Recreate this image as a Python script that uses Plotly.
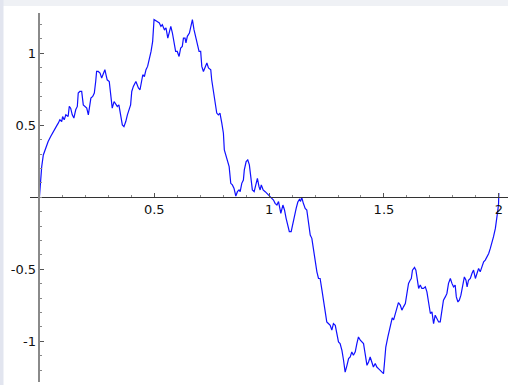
import plotly.graph_objects as go

# Sampled curve: x in [0, 2]
x_vals = [
    0.000, 0.005, 0.010, 0.017, 0.028, 0.038, 0.049, 0.060, 0.068, 0.075,
    0.082, 0.089, 0.097, 0.101, 0.108, 0.115, 0.125, 0.130, 0.136, 0.143,
    0.150, 0.158, 0.165, 0.169, 0.176, 0.184, 0.191, 0.198, 0.206, 0.213,
    0.220, 0.224, 0.232, 0.239, 0.245, 0.249, 0.256, 0.264, 0.271, 0.278,
    0.285, 0.290, 0.295, 0.304, 0.310, 0.317, 0.325, 0.332, 0.339, 0.346,
    0.354, 0.361, 0.368, 0.376, 0.383, 0.390, 0.397, 0.402, 0.409, 0.420,
    0.431, 0.438, 0.442, 0.450, 0.457, 0.464, 0.471, 0.478, 0.486, 0.493,
    0.499, 0.511, 0.522, 0.529, 0.535, 0.544, 0.551, 0.559, 0.566, 0.572,
    0.579, 0.586, 0.593, 0.600, 0.608, 0.615, 0.622, 0.627, 0.634, 0.638,
    0.644, 0.653, 0.660, 0.666, 0.673, 0.681, 0.689, 0.695, 0.702, 0.707,
    0.714, 0.721, 0.729, 0.736, 0.746, 0.750, 0.757, 0.765, 0.772, 0.779,
    0.786, 0.794, 0.801, 0.805, 0.813, 0.818, 0.826, 0.833, 0.840, 0.847,
    0.855, 0.862, 0.869, 0.874, 0.881, 0.888, 0.892, 0.900, 0.907, 0.914,
    0.920, 0.927, 0.935, 0.942, 0.949, 0.956, 0.961, 0.966, 0.974, 0.983,
    0.990, 0.997, 1.004, 1.012, 1.019, 1.026, 1.034, 1.041, 1.045, 1.051,
    1.060, 1.067, 1.074, 1.081, 1.088, 1.096, 1.103, 1.110, 1.118, 1.125,
    1.132, 1.137, 1.142, 1.149, 1.157, 1.164, 1.171, 1.179, 1.186, 1.193,
    1.200, 1.208, 1.215, 1.222, 1.230, 1.237, 1.244, 1.251, 1.258, 1.266,
    1.273, 1.280, 1.288, 1.295, 1.302, 1.309, 1.317, 1.324, 1.331, 1.339,
    1.346, 1.353, 1.360, 1.367, 1.375, 1.382, 1.389, 1.397, 1.404, 1.411,
    1.418, 1.426, 1.433, 1.440, 1.447, 1.454, 1.462, 1.469, 1.476, 1.484,
    1.491, 1.498, 1.502, 1.508, 1.517, 1.524, 1.530, 1.536, 1.542, 1.549,
    1.556, 1.563, 1.571, 1.578, 1.585, 1.593, 1.600, 1.607, 1.614, 1.619,
    1.624, 1.633, 1.639, 1.646, 1.651, 1.658, 1.665, 1.672, 1.680, 1.687,
    1.694, 1.702, 1.709, 1.716, 1.723, 1.731, 1.738, 1.745, 1.753, 1.759,
    1.767, 1.774, 1.781, 1.789, 1.796, 1.803, 1.810, 1.815, 1.822, 1.828,
    1.835, 1.842, 1.850, 1.857, 1.862, 1.868, 1.876, 1.883, 1.890, 1.898,
    1.905, 1.912, 1.919, 1.927, 1.934, 1.941, 1.949, 1.956, 1.963, 1.970,
    1.977, 1.985, 1.992, 1.996, 1.999, 2.000,
]
y_vals = [
    0.000, 0.120, 0.213, 0.294, 0.352, 0.387, 0.422, 0.457, 0.480, 0.496,
    0.515, 0.538, 0.526, 0.561, 0.538, 0.573, 0.561, 0.631, 0.619, 0.573,
    0.550, 0.608, 0.631, 0.724, 0.735, 0.735, 0.642, 0.631, 0.619, 0.573,
    0.631, 0.689, 0.700, 0.724, 0.804, 0.874, 0.874, 0.863, 0.828, 0.863,
    0.886, 0.851, 0.816, 0.804, 0.712, 0.619, 0.665, 0.642, 0.631, 0.642,
    0.561, 0.503, 0.491, 0.526, 0.573, 0.608, 0.642, 0.735, 0.770, 0.804,
    0.759, 0.747, 0.781, 0.851, 0.839, 0.886, 0.909, 0.955, 1.013, 1.083,
    1.234, 1.222, 1.211, 1.187, 1.199, 1.164, 1.176, 1.106, 1.164, 1.187,
    1.141, 1.083, 1.013, 1.013, 0.978, 1.037, 1.048, 1.106, 1.106, 1.072,
    1.118, 1.141, 1.187, 1.234, 1.164, 1.106, 1.048, 1.013, 1.013, 0.909,
    0.874, 0.909, 0.933, 0.898, 0.886, 0.816, 0.747, 0.677, 0.585, 0.573,
    0.585, 0.515, 0.445, 0.329, 0.283, 0.271, 0.213, 0.097, 0.086, 0.063,
    0.009, 0.039, 0.051, 0.039, 0.097, 0.120, 0.190, 0.248, 0.260, 0.225,
    0.143, 0.051, 0.039, 0.097, 0.132, 0.074, 0.051, 0.086, 0.051, 0.039,
    0.028, 0.016, 0.000, -0.007, -0.019, -0.042, -0.054, -0.030, -0.077, -0.111,
    -0.054, -0.088, -0.146, -0.193, -0.239, -0.239, -0.181, -0.123, -0.075, -0.033,
    -0.015, -0.029, 0.000, -0.042, -0.077, -0.088, -0.158, -0.262, -0.285, -0.355,
    -0.448, -0.518, -0.564, -0.564, -0.645, -0.715, -0.807, -0.866, -0.877, -0.889,
    -0.923, -0.877, -0.889, -0.946, -1.005, -1.016, -1.063, -1.132, -1.214, -1.167,
    -1.120, -1.109, -1.074, -1.097, -1.074, -1.016, -0.970, -0.993, -1.005, -1.016,
    -1.086, -1.167, -1.144, -1.109, -1.144, -1.179, -1.155, -1.179, -1.190, -1.202,
    -1.214, -1.225, -1.155, -1.040, -0.970, -0.923, -0.889, -0.838, -0.851, -0.812,
    -0.761, -0.732, -0.749, -0.784, -0.761, -0.738, -0.668, -0.598, -0.576, -0.564,
    -0.506, -0.487, -0.506, -0.576, -0.633, -0.610, -0.633, -0.633, -0.622, -0.657,
    -0.738, -0.807, -0.796, -0.877, -0.819, -0.842, -0.866, -0.866, -0.761, -0.715,
    -0.692, -0.668, -0.598, -0.564, -0.598, -0.622, -0.610, -0.692, -0.727, -0.715,
    -0.680, -0.622, -0.553, -0.576, -0.622, -0.576, -0.564, -0.529, -0.506, -0.564,
    -0.529, -0.494, -0.518, -0.471, -0.448, -0.436, -0.413, -0.390, -0.355, -0.320,
    -0.274, -0.216, -0.146, -0.088, -0.042, 0.030,
]

# Axis ranges and tick labels
x_range = [-0.041, 2.04]
y_range = [-1.283, 1.28]
x_ticks = [0.5, 1, 1.5, 2]
x_ticktext = ["0.5", "1", "1.5", "2"]
y_ticks = [-1, -0.5, 0.5, 1]
y_ticktext = ["-1", "-0.5", "0.5", "1"]

W, H = 508, 385
ML, MR, MT, MB = 30, 0, 13, 3
PW, PH = W - ML - MR, H - MT - MB

# axes cross at the origin
x_axis_pos = (0 - y_range[0]) / (y_range[1] - y_range[0])
y_axis_pos = (0 - x_range[0]) / (x_range[1] - x_range[0])

font = dict(family="DejaVu Sans", size=13, color="#111111")

fig = go.Figure()
fig.add_trace(go.Scatter(
    x=x_vals, y=y_vals, mode="lines",
    line=dict(color="#1010ff", width=1.2),
    hoverinfo="skip", showlegend=False,
))


def px_to_paper_x(px):
    return (px - ML) / PW


def py_to_paper_y(py):
    return (H - MB - py) / PH


# light window frame along the top and left edges
shapes = [
    dict(type="rect", xref="paper", yref="paper", layer="below",
         x0=px_to_paper_x(0), x1=px_to_paper_x(W), y0=py_to_paper_y(6), y1=py_to_paper_y(0),
         fillcolor="#eff1f5", line=dict(width=0)),
    dict(type="rect", xref="paper", yref="paper", layer="below",
         x0=px_to_paper_x(0), x1=px_to_paper_x(3.5), y0=py_to_paper_y(H), y1=py_to_paper_y(0),
         fillcolor="#e2e5ef", line=dict(width=0)),
]

fig.update_layout(
    width=W, height=H,
    margin=dict(l=ML, r=MR, t=MT, b=MB, pad=0),
    paper_bgcolor="white", plot_bgcolor="rgba(0,0,0,0)",
    shapes=shapes,
    font=font,
    xaxis=dict(
        range=x_range, domain=[0, 1], anchor="free", position=x_axis_pos,
        showline=True, linecolor="#333333", linewidth=1,
        showgrid=False, zeroline=False,
        tickmode="array", tickvals=x_ticks, ticktext=x_ticktext,
        ticks="inside", ticklen=4, tickwidth=1, tickcolor="#555555",
        minor=dict(tickmode="linear", tick0=0, dtick=0.1, ticks="inside",
                   ticklen=2, tickwidth=1, tickcolor="#888888"),
        tickfont=font,
    ),
    yaxis=dict(
        range=y_range, domain=[0, 1], anchor="free", position=y_axis_pos,
        showline=True, linecolor="#8a8a8a", linewidth=1.5,
        showgrid=False, zeroline=False,
        tickmode="array", tickvals=y_ticks, ticktext=y_ticktext,
        ticks="inside", ticklen=4, tickwidth=1, tickcolor="#555555",
        minor=dict(tickmode="linear", tick0=0, dtick=0.1, ticks="inside",
                   ticklen=2, tickwidth=1, tickcolor="#888888"),
        tickfont=font,
    ),
)

fig.write_html("out.html")
